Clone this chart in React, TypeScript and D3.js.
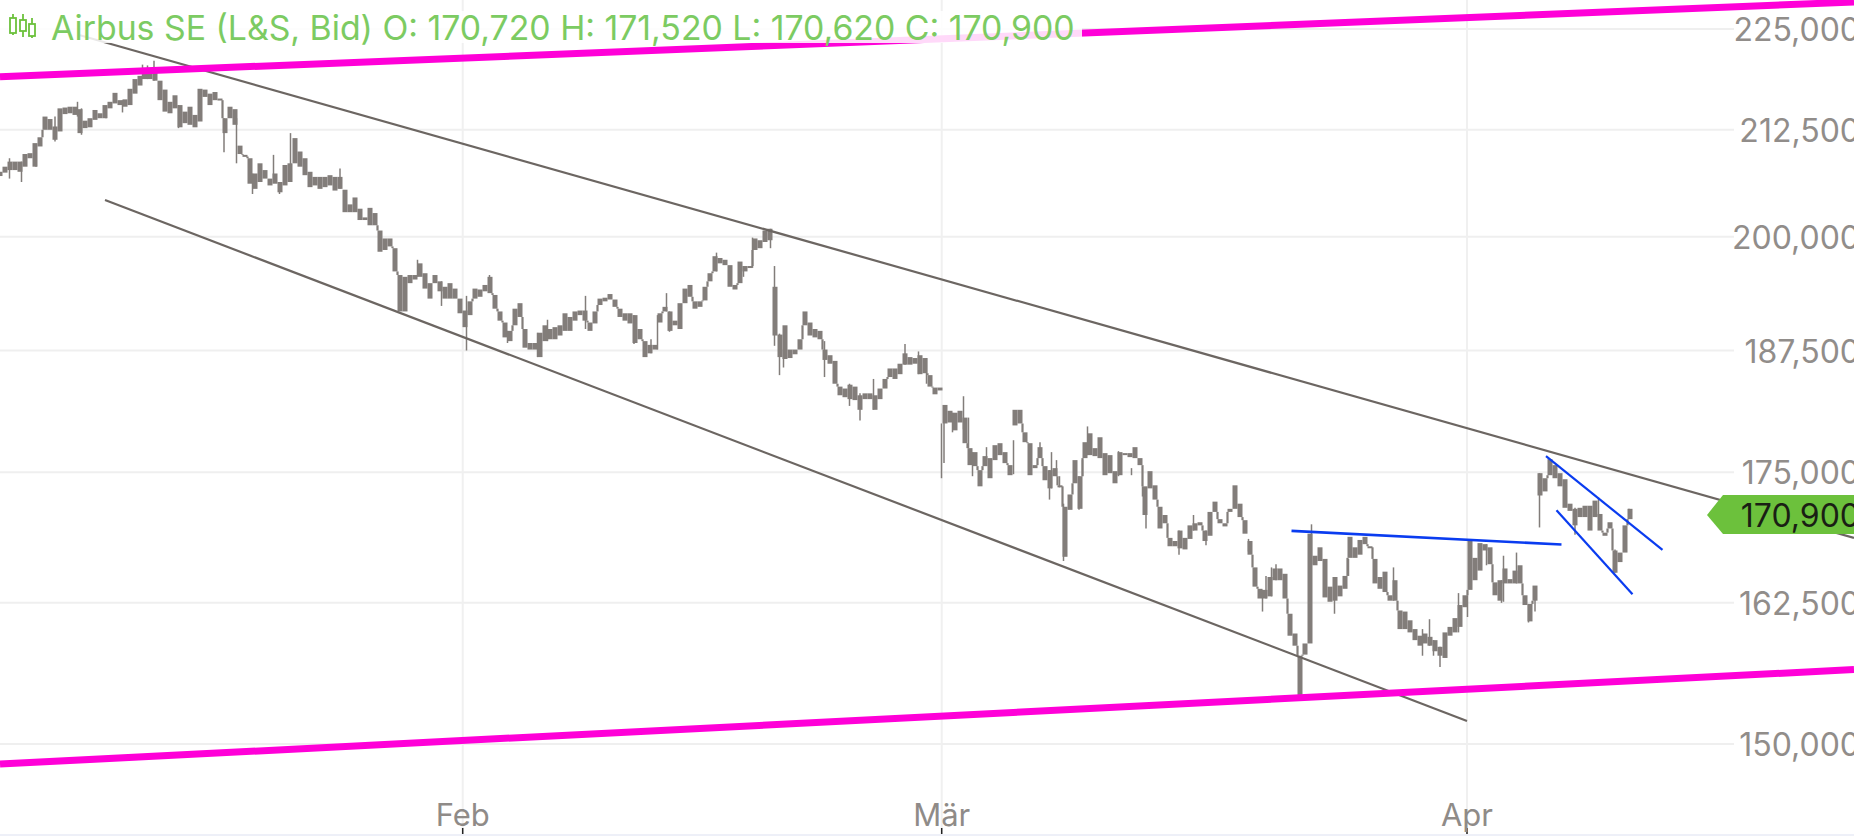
import React from "react";
import * as d3 from "d3";

const W = 1854, H = 836;

// Each row: [body high, body low], one row per bar, in EUR.
const janBars = [[207.5,207.0],[208.1,207.4],[208.7,207.7],[208.7,207.7],[208.7,207.5],[209.6,208.1],[209.7,209.1],[210.9,208.1],[211.6,210.5],[214.1,212.5],[213.8,212.5],[212.9,211.3],[215.1,212.3],[215.2,214.4],[215.3,214.5],[215.3,214.3],[215.0,212.1],[213.6,212.7],[213.9,212.8],[214.9,213.7],[214.5,213.9],[215.5,213.9],[215.9,215.1],[217.0,215.7],[216.1,215.5],[216.2,215.3],[217.5,215.5],[218.7,216.9],[219.1,217.9],[220.1,218.7],[220.1,218.7],[220.1,218.5],[218.5,216.1],[217.4,214.7],[215.9,214.5],[216.7,215.1],[215.5,212.8],[214.7,213.3],[215.3,213.1],[214.3,212.8],[217.5,213.5],[217.4,216.5],[216.9,215.5],[217.1,216.1],[216.3,216.1],[213.9,212.1],[215.3,213.9],[215.0,213.1],[210.6,209.6],[209.5,209.3],[209.1,206.1],[207.3,205.5],[208.5,206.3],[207.7,206.7],[206.7,205.9],[207.3,206.1],[206.3,205.1],[208.3,205.9],[208.5,206.3],[211.5,208.5],[209.9,208.1],[209.1,207.1],[207.5,205.7],[206.9,205.9],[206.9,205.5],[206.9,205.7],[207.1,205.9],[206.9,205.3],[206.9,205.5]];
const febBars = [[205.4,202.8],[203.7,202.8],[204.5,202.8],[203.2,201.9],[202.2,201.9],[203.3,201.3],[202.7,201.3],[200.7,198.3],[199.8,198.5],[199.8,198.9],[198.7,196.1],[195.7,191.7],[195.5,191.7],[195.7,194.8],[195.7,195.2],[197.0,195.5],[195.9,194.2],[194.8,193.1],[195.7,194.8],[195.0,193.9],[194.4,193.1],[194.8,193.1],[194.2,193.1],[193.1,191.5],[191.8,190.0],[192.8,191.3],[194.2,193.1],[194.1,193.3],[194.6,193.9],[195.5,193.7],[193.5,192.0],[191.7,190.7],[190.5,188.9],[189.6,188.5],[192.0,190.2],[192.6,191.1],[189.8,187.8],[188.3,187.6],[188.3,187.6],[189.4,186.8],[190.2,188.5],[189.8,188.7],[190.0,188.7],[190.2,189.1],[191.5,189.6],[191.1,189.6],[191.7,190.7],[191.8,191.3],[191.8,190.7],[190.5,189.6],[191.7,190.4],[193.1,192.4],[193.2,192.8],[193.6,193.0],[193.0,192.2],[192.0,191.1],[191.5,190.7]];
const lateFebBars = [[191.5,190.4],[191.3,188.3],[189.8,188.7],[188.5,186.8],[188.1,187.2],[188.1,187.6],[191.5,190.5],[192.2,191.7],[191.7,189.6],[190.7,190.2],[192.6,189.8],[194.2,192.6],[194.6,193.3],[192.8,192.0],[192.8,192.2],[194.4,192.9],[195.9,195.0],[197.8,196.1],[197.6,197.0],[197.4,196.8],[196.8,194.4],[194.6,194.1],[197.2,194.8],[196.7,196.1],[196.7,196.5],[199.8,198.5],[199.6,198.7],[200.7,199.4],[200.9,199.6],[194.4,189.1],[189.2,186.8],[190.2,186.6],[187.6,186.7],[187.6,187.1],[188.7,187.6],[191.7,190.2],[190.5,189.1],[189.8,188.9],[189.6,188.7],[187.6,186.5],[187.0,186.1],[186.4,184.0],[183.7,182.8],[183.5,182.6],[183.9,182.4],[183.7,182.3],[182.8,181.3],[183.0,182.4],[183.0,182.4],[182.8,181.3],[183.5,182.4],[184.5,183.5],[185.6,184.7],[185.6,184.5],[186.1,185.0],[187.2,186.0],[186.8,186.0],[186.7,186.1],[187.0,185.0],[186.7,185.1],[184.9,183.7],[183.6,182.9],[183.6,183.3]];
const marBars = [[181.8,179.9],[181.2,180.0],[181.0,179.2],[181.2,180.0],[180.5,177.9],[177.4,175.7],[177.0,175.6],[175.2,173.6],[176.6,175.6],[176.4,174.4],[177.7,176.2],[177.9,176.7],[177.0,175.9],[175.7,174.7],[181.3,179.7],[181.3,179.9],[179.0,178.0],[177.9,174.7],[175.7,175.4],[177.5,176.4],[175.6,174.2],[175.2,173.4],[175.4,174.6],[173.7,173.6],[171.6,166.8],[172.8,171.3],[176.2,173.9],[174.6,171.4],[178.0,176.4],[178.9,176.7],[177.4,176.6],[178.5,176.4],[176.9,174.7],[176.7,174.9],[175.1,173.9],[177.0,174.7],[176.9,176.7],[176.9,176.5],[177.5,176.4],[176.4,175.7],[173.6,170.8],[175.1,173.4],[173.7,172.3],[171.6,169.5],[170.8,170.0],[168.6,167.8],[168.3,167.8],[169.3,167.6],[168.6,167.5],[169.8,168.5],[170.0,169.3],[170.1,169.8],[169.3,168.3],[171.1,168.8],[172.1,171.1],[170.4,170.0],[170.0,169.7],[171.4,171.1],[173.7,171.4],[171.9,170.6],[170.3,169.0]];
const lateMarBars = [[168.3,167.0],[165.8,164.0],[163.8,162.9],[163.7,162.9],[164.9,163.1],[165.7,164.6],[165.7,164.6],[165.2,162.9],[161.5,159.5],[159.7,158.6],[157.7,154.1],[158.8,157.8],[169.0,158.8],[166.9,166.0],[167.7,166.4],[166.6,163.0],[164.0,162.6],[164.9,162.7],[164.1,163.1],[165.0,163.8],[168.7,166.7],[167.7,166.7],[168.4,167.0],[168.7,168.0],[167.8,167.7],[166.6,164.3],[164.9,163.8],[165.4,163.5],[163.2,162.7],[164.6,162.7],[161.8,160.1],[161.7,160.1],[160.9,159.8],[160.1,159.1],[159.5,158.6],[159.7,158.8],[159.4,158.6],[159.1,158.1],[158.5,157.7],[159.8,157.5],[160.3,159.5],[161.1,159.8],[162.3,160.3],[163.2,162.1],[168.4,163.7],[166.7,164.6],[168.1,165.5],[168.0,167.4],[167.7,166.1],[164.4,163.2],[164.6,162.7],[165.7,164.3],[164.7,164.3],[165.5,164.3],[166.0,164.3],[163.2,162.3],[162.4,160.8],[164.1,162.7]];
const aprBars = [[174.9,172.7],[174.4,173.1],[176.3,174.7],[175.7,174.4],[174.9,173.6],[174.3,171.5],[171.9,171.2],[171.4,169.8],[171.5,170.6],[171.7,170.6],[171.7,169.3],[172.2,170.6],[170.9,169.3],[169.1,168.8],[170.1,169.5],[167.4,165.3],[167.2,166.3],[169.8,167.2],[171.4,170.4]];
const barSegments = [
  { start: 0, bars: janBars },
  { start: 69, bars: febBars },
  { start: 126, bars: lateFebBars },
  { start: 189, bars: marBars },
  { start: 250, bars: lateMarBars },
  { start: 308, bars: aprBars },
];

// [bar position, high, low] of thin wicks.
const wicks = [[1.9,209.1,206.7],[4.3,208.7,206.3],[7.2,209.9,208.1],[11,214.1,211.1],[15.5,215.9,214.1],[16.3,215.1,211.9],[21.2,215.3,213.9],[24.5,216.1,214.6],[28.5,220.5,218.7],[29.5,220.4,218.7],[30.8,221,218.5],[35.7,215.5,212.7],[44.8,213.9,209.8],[47.3,213.9,208.5],[50.5,207.3,204.9],[54.7,209.5,206.7],[55.9,206.3,204.9],[58.1,212.1,206.3],[68,207.9,205.5],
[83.5,197.4,195.5],[88.3,195,192.3],[93.3,193.4,187.5],[97.9,195.7,193.9],[101.5,189.6,188.3],[107.5,189.4,186.8],[109.5,190.8,188.5],[117.1,193.4,189.8],
[126.8,191.3,188.2],[130.2,188.7,187.2],[131.5,191.3,187.6],[133.3,193.7,191.7],[133.9,191.7,189.5],[143.3,198.2,196.1],[148.7,196.7,195.5],[150.5,199.9,196.5],[154.1,200.9,198.7],[154.9,196.7,188],[155.9,189.3,184.9],[156.7,187.6,185.7],[164.9,188.5,184.7],[169.9,184,181.7],[172,183,180.2],[174.7,184.5,181.3],[181,188.2,186],[183.7,187.4,185],[185.3,186.7,184],
[188.3,179.9,174.4],[188.8,181.8,175.9],[190.5,181,179],[192.7,182.7,179.3],[193.7,180.5,177.4],[194.5,177,174.6],[197.3,177.5,176.2],[202.7,178.2,174.8],[208,178,176.4],[209.9,175.2,172.3],[210.3,177,173.4],[211.3,176.2,174.6],[211.9,174.6,173.5],[212.7,171.9,166.4],[215.8,174.6,171.3],[216.5,176.2,174.6],[217.5,179.6,176.7],[223.7,177.1,174.6],[226.3,175.4,174.7],[228.5,173.6,172.6],[229.2,172.3,169.5],[235.8,169.3,167],[238.7,170.8,169.3],[241.2,169.3,167.9],[249.7,168.5,167.3],
[252.5,163.7,161.7],[253.2,165,162.9],[254.3,165.8,163.1],[255.2,166.1,164.6],[262.3,169.9,166.1],[266.9,164.9,161.5],[269.7,166.6,165],[278.7,165.8,162.7],[284.5,160.1,157.7],[285.9,161,158.6],[286.7,159.1,157.7],[288,158.5,156.7],[291.7,163.4,159.8],[293.5,163.2,161.2],[297.3,168,166],[300.3,164.6,162.5],[300.7,166.9,162.6],[303.3,167.2,164.3],[305.7,162.4,160.7],[307,163.2,161.7],
[307.9,174.9,169.6],[315,171.5,168.9],[319.7,172.5,170.7],[323,167.5,165.3],[325.8,171.4,170.6]];

const priceTicks = [225, 212.5, 200, 187.5, 175, 162.5, 150];
const monthTicks = [{ label: "Feb", bar: 92.54 }, { label: "Mär", bar: 188.34 }, { label: "Apr", bar: 293.4 }];
const lastPrice = 170.9;
const titleText = "Airbus SE (L&S, Bid) O: 170,720 H: 171,520 L: 170,620 C: 170,900";

// Trend lines: [[bar, price], [bar, price]]
const grayLines = [[[16, 224.2], [370.8, 168.6]], [[21, 204.2], [293.4, 151.97]]];
const magentaLines = [[[0, 219.0], [370.8, 228.47]], [[0, 148.3], [370.8, 156.47]]];
const blueLines = [
  [[258.3, 169.27], [312.3, 167.96]],
  [[309.2, 176.6], [332.5, 167.45]],
  [[311.3, 171.27], [326.5, 163.3]],
];

const x = d3.scaleLinear().domain([0, 326]).range([0, 1630]);
const y = d3.scaleLog().domain([150, 225]).range([744, 29]);
const line = d3.line<number[]>().x((d) => x(d[0])).y((d) => y(d[1]));
const fmt = (v: number) => v.toFixed(3).replace(".", ",");

const SANS = "Inter, 'Noto Sans', sans-serif";
const BAR = "#827d7a";
const GREEN_TXT = "#7ccb62";
const GREEN = "#6cc13c";
const candles = [{ x: 13, t: 18, b: 33, h0: 14, h1: 35 }, { x: 23, t: 20, b: 31, h0: 14, h1: 37 }, { x: 32, t: 24, b: 36, h0: 18, h1: 38 }];
const MAX_JOIN = 2.4; // largest price step between neighbouring bars that is joined up

export default function App() {
  return (
    <svg width={W} height={H} style={{ position: "absolute", left: 0, top: 0, background: "#fff" }} fontFamily={SANS}>
      <rect x={0} y={834} width={W} height={2} fill="#eef0f8" />
      {priceTicks.map((p) => (
        <line key={p} x1={0} x2={1734} y1={y(p)} y2={y(p)} stroke="#efefef" strokeWidth={2} />
      ))}
      {monthTicks.map((m) => (
        <g key={m.label}>
          <line x1={x(m.bar)} x2={x(m.bar)} y1={0} y2={834} stroke="#f0f0f0" strokeWidth={2} />
          <line x1={x(m.bar)} x2={x(m.bar)} y1={828} y2={834} stroke="#222" strokeWidth={1.5} />
          <text x={x(m.bar)} y={826} textAnchor="middle" fontSize={31} fill="#8f8b88">{m.label}</text>
        </g>
      ))}
      {barSegments.map((s) =>
        s.bars.map((b, i) => {
          const top = y(b[0]);
          const bottom = y(b[1]);
          const next = s.bars[i + 1];
          const gapDown = next && b[1] - next[0];
          const gapUp = next && next[1] - b[0];
          const gap = next ? Math.max(gapDown, gapUp) : 0;
          return (
            <g key={s.start + i}>
              <rect x={x(s.start + i) - 2.5} width={5} y={top} height={Math.max(bottom - top, 2)} fill={BAR} />
              {gap > 0 && gap < MAX_JOIN && (
                <line
                  x1={x(s.start + i + 0.5)}
                  x2={x(s.start + i + 0.5)}
                  y1={gapDown > 0 ? y(b[1]) : y(b[0])}
                  y2={gapDown > 0 ? y(next[0]) : y(next[1])}
                  stroke={BAR}
                  strokeWidth={2.2}
                />
              )}
            </g>
          );
        })
      )}
      {wicks.map((w, i) => (
        <line key={i} x1={x(w[0])} x2={x(w[0])} y1={y(w[1])} y2={y(w[2])} stroke={BAR} strokeWidth={1.5} />
      ))}
      {grayLines.map((l, i) => (
        <path key={i} d={line(l) as string} stroke="#6c6662" strokeWidth={2.2} fill="none" />
      ))}
      {magentaLines.map((l, i) => (
        <path key={i} d={line(l) as string} stroke="#ff00d8" strokeWidth={7} fill="none" />
      ))}
      {blueLines.map((l, i) => (
        <path key={i} d={line(l) as string} stroke="#0a3cf0" strokeWidth={i === 0 ? 2.6 : 2.2} fill="none" />
      ))}
      <rect x={0} y={11} width={1082} height={32} fill="#fff" fillOpacity={0.85} />
      {candles.map((c, i) => (
        <g key={i} stroke={GREEN} fill="none" strokeWidth={1.8}>
          <line x1={c.x} x2={c.x} y1={c.h0} y2={c.h1} />
          <rect x={c.x - 3} y={c.t} width={6} height={c.b - c.t} fill="#fff" />
        </g>
      ))}
      <text x={51} y={40} fontSize={33.8} fill={GREEN_TXT}>{titleText}</text>
      {priceTicks.map((p) => (
        <text key={p} x={1860} y={y(p) + 12} textAnchor="end" fontSize={32} fill="#918d8a">{fmt(p)}</text>
      ))}
      <path d={`M${W},${y(lastPrice) - 19} H1723 L1707,${y(lastPrice) + 1} L1723,${y(lastPrice) + 20} H${W} Z`} fill={GREEN} />
      <text x={1860} y={y(lastPrice) + 13} textAnchor="end" fontSize={32} fill="#1a1f14">{fmt(lastPrice)}</text>
    </svg>
  );
}
